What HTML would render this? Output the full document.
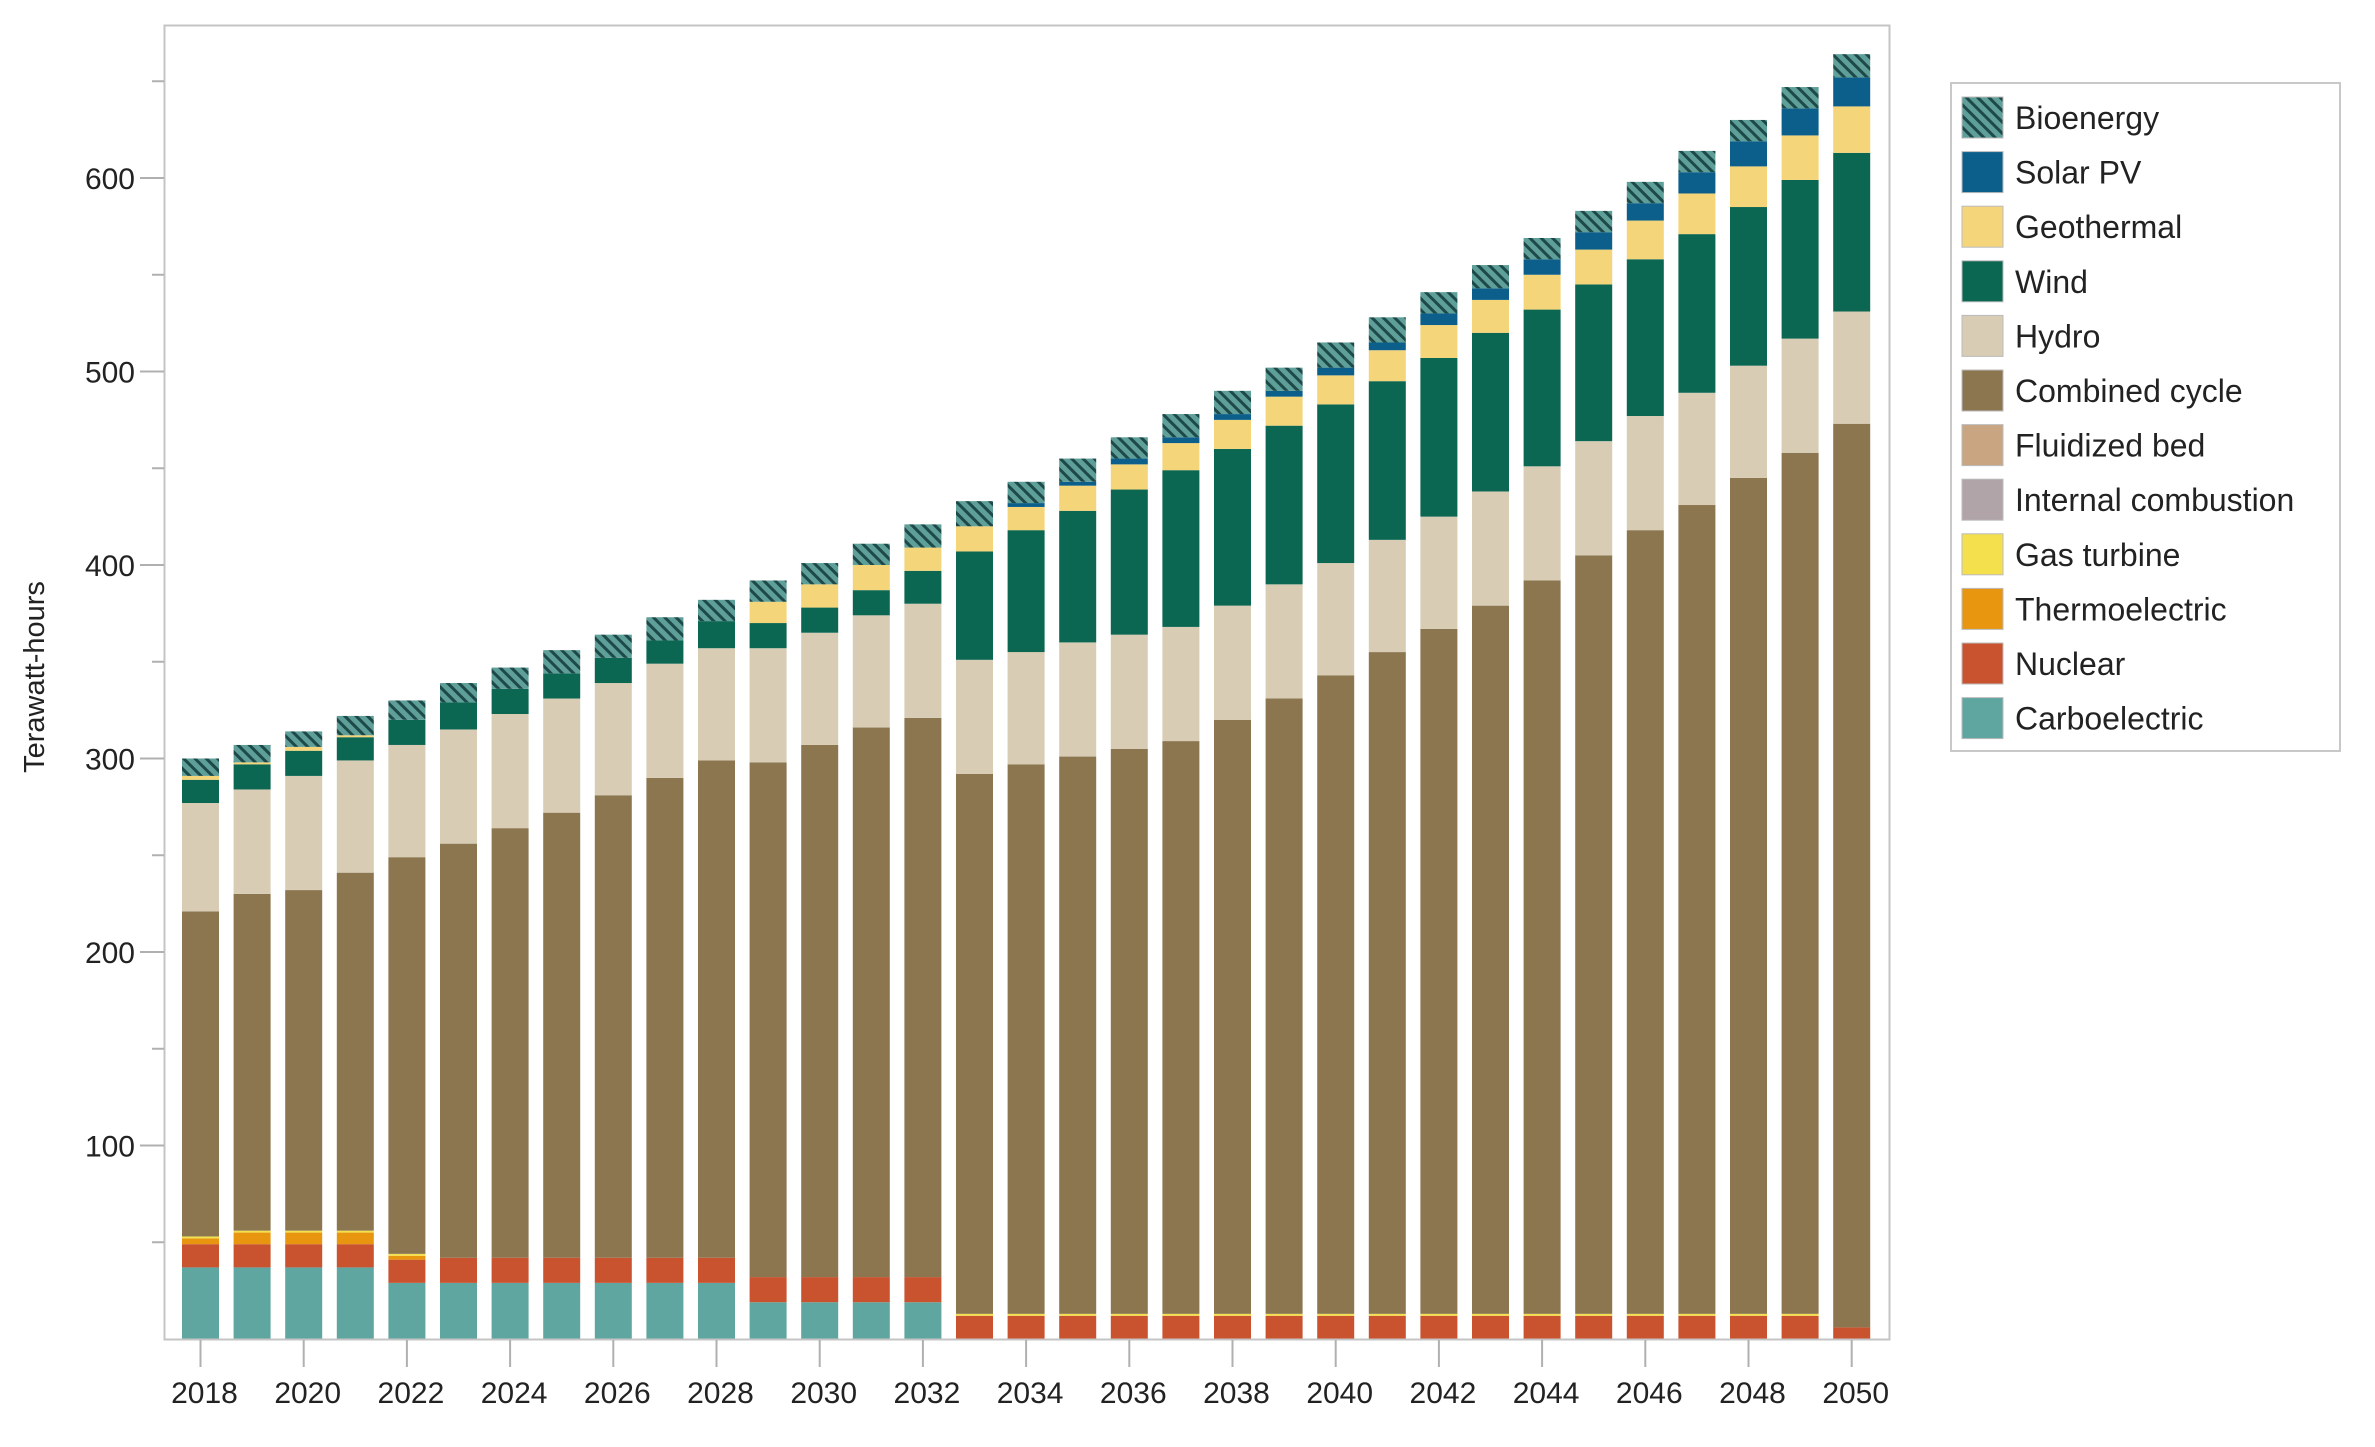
<!DOCTYPE html>
<html><head><meta charset="utf-8"><style>
html,body{margin:0;padding:0;background:#fff;}
svg{display:block;font-family:"Liberation Sans",sans-serif;}
</style></head><body>
<svg id="s" width="2375" height="1447" viewBox="0 0 2375 1447" xmlns="http://www.w3.org/2000/svg">
<defs>
<pattern id="bio" patternUnits="userSpaceOnUse" width="8" height="8" patternTransform="rotate(-45)">
<rect width="8" height="8" fill="#5f9f99"/><rect width="3" height="8" fill="#1d4a48"/>
</pattern>
</defs>
<rect x="0" y="0" width="2375" height="1447" fill="#fff"/>
<g id="bars"></g>
<rect x="164.5" y="25.5" width="1725" height="1314" fill="none" stroke="#c4c4c4" stroke-width="2"/>
<g id="axes" stroke="#b0b0b0" stroke-width="2"></g>
<g id="lab" font-size="30" fill="#222"></g>
<text transform="translate(44,677) rotate(-90)" text-anchor="middle" font-size="29" fill="#222">Terawatt-hours</text>
<rect x="1951" y="83" width="389" height="668" fill="#fff" stroke="#c8c8c8" stroke-width="2"/>
<g id="leg" font-size="32" fill="#222"></g>
</svg>
<script>
const NS="http://www.w3.org/2000/svg";
function el(p,t,a,txt){const e=document.createElementNS(NS,t);for(const k in a)e.setAttribute(k,a[k]);if(txt)e.textContent=txt;p.appendChild(e);return e;}
const Y=v=>1339-v*1.935;
const C={carbo:"#5fa6a1",nuc:"#c9532f",thermo:"#e8960f",gt:"#f4e04d",cc:"#8b7650",hydro:"#d8ccb4",wind:"#0b6652",geo:"#f5d57a",solar:"#0b5f8a",bio:"url(#bio)"};
const D={
2018:[37,49,52,53,221,277,289,291,291,300],
2019:[37,49,55,56,230,284,297,298,298,307],
2020:[37,49,55,56,232,291,304,306,306,314],
2021:[37,49,55,56,241,299,311,312,312,322],
2022:[29,41,43,44,249,307,320,320,320,330],
2023:[29,42,42,42,256,315,329,329,329,339],
2024:[29,42,42,42,264,323,336,336,336,347],
2025:[29,42,42,42,272,331,344,344,344,356],
2026:[29,42,42,42,281,339,352,352,352,364],
2027:[29,42,42,42,290,349,361,361,361,373],
2028:[29,42,42,42,299,357,371,371,371,382],
2029:[19,32,32,32,298,357,370,381,381,392],
2030:[19,32,32,32,307,365,378,390,390,401],
2031:[19,32,32,32,316,374,387,400,400,411],
2032:[19,32,32,32,321,380,397,409,409,421],
2033:[0,12,12,13,292,351,407,420,420,433],
2034:[0,12,12,13,297,355,418,430,432,443],
2035:[0,12,12,13,301,360,428,441,443,455],
2036:[0,12,12,13,305,364,439,452,455,466],
2037:[0,12,12,13,309,368,449,463,466,478],
2038:[0,12,12,13,320,379,460,475,478,490],
2039:[0,12,12,13,331,390,472,487,490,502],
2040:[0,12,12,13,343,401,483,498,502,515],
2041:[0,12,12,13,355,413,495,511,515,528],
2042:[0,12,12,13,367,425,507,524,530,541],
2043:[0,12,12,13,379,438,520,537,543,555],
2044:[0,12,12,13,392,451,532,550,558,569],
2045:[0,12,12,13,405,464,545,563,572,583],
2046:[0,12,12,13,418,477,558,578,587,598],
2047:[0,12,12,13,431,489,571,592,603,614],
2048:[0,12,12,13,445,503,585,606,619,630],
2049:[0,12,12,13,458,517,599,622,636,647],
2050:[0,6,6,6,473,531,613,637,652,664]};
const keys=["carbo","nuc","thermo","gt","cc","hydro","wind","geo","solar","bio"];
const bars=document.getElementById("bars");
for(let yr=2018;yr<=2050;yr++){
 const cx=200.5+(yr-2018)*51.6, x=cx-18.5; let prev=0;
 D[yr].forEach((v,i)=>{ if(v>prev){el(bars,"rect",{x:x,y:Y(v),width:37,height:Y(prev)-Y(v),fill:C[keys[i]]});} prev=Math.max(prev,v);});
}
const ax=document.getElementById("axes"),lab=document.getElementById("lab");
for(let v=50;v<=650;v+=50){const y=Y(v);const major=v%100==0;
 el(ax,"line",{x1:major?140:152,x2:164,y1:y,y2:y});
 if(major)el(lab,"text",{x:135,y:y+11,"text-anchor":"end"},String(v));}
for(let yr=2018;yr<=2050;yr+=2){const cx=200.5+(yr-2018)*51.6;
 el(ax,"line",{x1:cx,x2:cx,y1:1340,y2:1367});
 el(lab,"text",{x:cx+4,y:1403,"text-anchor":"middle"},String(yr));}
const leg=document.getElementById("leg");
const L=[["Bioenergy","bio"],["Solar PV","solar"],["Geothermal","geo"],["Wind","wind"],["Hydro","hydro"],["Combined cycle","cc"],["Fluidized bed","#c9a582"],["Internal combustion","#b0a4a8"],["Gas turbine","gt"],["Thermoelectric","thermo"],["Nuclear","nuc"],["Carboelectric","carbo"]];
L.forEach((l,i)=>{const y=97+i*54.6;const f=C[l[1]]||l[1];
 el(leg,"rect",{x:1962,y:y,width:41,height:41,fill:f,stroke:"#bbb","stroke-width":1});
 el(leg,"text",{x:2015,y:y+32},l[0]);});
</script>
</body></html>
